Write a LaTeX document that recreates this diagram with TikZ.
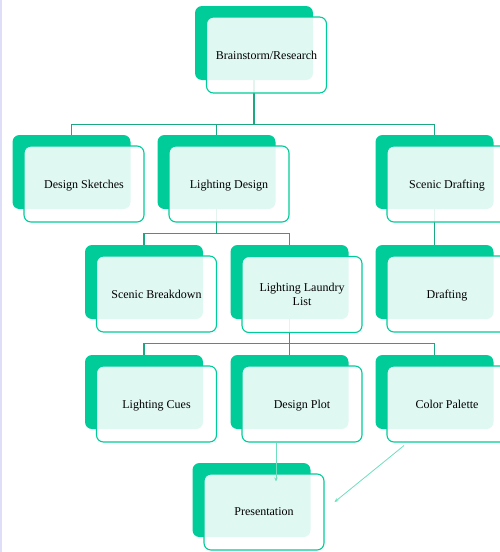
\documentclass[tikz,border=0pt]{standalone}
\usepackage{fontspec}
\setmainfont{Liberation Serif}
\usepackage{tikz}
\usetikzlibrary{arrows.meta}
\definecolor{leafgreen}{RGB}{0,204,153}
\definecolor{stemgreen}{RGB}{28,168,128}
\definecolor{mistgreen}{RGB}{110,222,190}
\definecolor{edgelilac}{RGB}{222,222,248}

\begin{document}
\begin{tikzpicture}[x=1pt,y=-1pt,
  back/.style={rectangle, rounded corners=7pt, fill=leafgreen, minimum width=118pt, minimum height=74pt, inner sep=0pt},
  card/.style={rectangle, rounded corners=7pt, draw=leafgreen, line width=1.1pt, fill=white, fill opacity=0.88, text opacity=1,
    minimum width=120pt, minimum height=76pt, inner sep=0pt, align=center, font=\fontsize{12}{13.5}\selectfont},
  tree/.style={draw=stemgreen, line width=1.1pt},
  flow/.style={draw=mistgreen, line width=0.8pt, -{Stealth[length=4pt,width=3.5pt]}}]

\useasboundingbox (0,0) rectangle (500,552);
\draw[edgelilac, line width=1.5pt] (1,0) -- (1,552);

% back plates
\foreach \n/\x/\y in {brain/254/43, sketch/71.5/172, light/216.5/172, scenic/434.5/172,
                      breakdown/144/282, laundry/289.5/282, drafting/434.5/282,
                      cues/144/392, plot/289.5/392, palette/434.5/392, pres/251.5/500}
  \node[back] (\n-b) at (\x,\y) {};

% tree lines
\draw[tree] (brain-b.south) -- ++(0,44) -| (sketch-b.north);
\draw[tree] (brain-b.south) -- ++(0,44) -| (light-b.north);
\draw[tree] (brain-b.south) -- ++(0,44) -| (scenic-b.north);
\draw[tree] (light-b.south) -- ++(0,24) -| (breakdown-b.north);
\draw[tree] (light-b.south) -- ++(0,24) -| (laundry-b.north);
\draw[tree] (scenic-b.south) -- (drafting-b.north);
\draw[tree] (laundry-b.south) -- ++(0,24) -| (cues-b.north);
\draw[tree] (laundry-b.south) -- ++(0,24) -| (plot-b.north);
\draw[tree] (laundry-b.south) -- ++(0,24) -| (palette-b.north);

% front cards
\foreach \n/\t in {brain/{Brainstorm/Research}, sketch/{Design Sketches}, light/{Lighting Design},
                   scenic/{Scenic Drafting}, breakdown/{Scenic Breakdown},
                   drafting/{Drafting}, cues/{Lighting Cues}, plot/{Design Plot},
                   palette/{Color Palette}, pres/{Presentation}}
  \node[card, text depth=0pt] (\n) at ([shift={(12.5,12)}]\n-b.center) {\t};
\node[card] (laundry) at ([shift={(12.5,12.5)}]laundry-b.center) {Lighting Laundry\\List};

% arrows
\draw[flow] ([xshift=-26pt]plot.south) -- ([xshift=12pt,yshift=-8pt]pres.north);
\draw[flow] ([xshift=-43pt,yshift=-3pt]palette.south) -- ([xshift=10pt,yshift=10pt]pres.east);
\end{tikzpicture}
\end{document}
